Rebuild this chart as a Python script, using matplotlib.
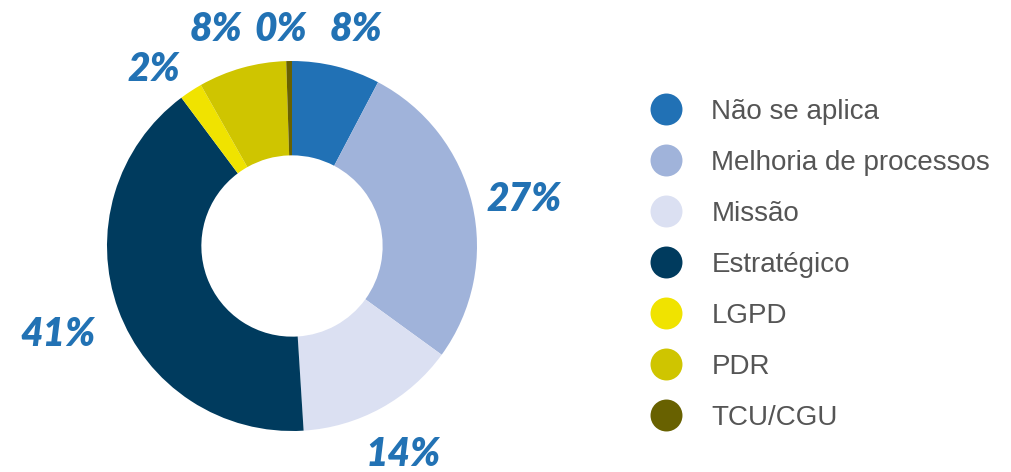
import numpy as np
import matplotlib
matplotlib.use("Agg")
import matplotlib.pyplot as plt
from matplotlib.lines import Line2D

# share of each category (percent)
categories = ["Não se aplica", "Melhoria de processos", "Missão", "Estratégico",
              "LGPD", "PDR", "TCU/CGU"]
values = [7.7, 27.3, 14.0, 40.8, 2.0, 7.7, 0.5]
pct_labels = ["8%", "27%", "14%", "41%", "2%", "8%", "0%"]
colors = ["#2171B5", "#A0B3DA", "#DBE0F2", "#003B5E", "#F0E300", "#CFC500", "#686100"]

# how far out each percent label sits (in pie radii) and small angle tweaks (deg)
label_dist = [1.22, 1.28, 1.28, 1.35, 1.21, 1.24, 1.17]
label_shift = [-2.7, -1.9, -0.7, 0.6, 4.9, 3.7, 2.1]

fig = plt.figure(figsize=(10.11, 4.72), dpi=100)

# square axes centred on the donut
W, H = 1011, 472
cx, cy, R = 292, 246, 185
lim = 1.4
half = lim * R
ax = fig.add_axes([(cx - half) / W, (H - cy - half) / H, 2 * half / W, 2 * half / H])

wedges, _ = ax.pie(values, colors=colors, startangle=90, counterclock=False,
                   radius=1.0, wedgeprops=dict(width=0.51, linewidth=0))

for w, lab, d, sh in zip(wedges, pct_labels, label_dist, label_shift):
    ang = np.deg2rad((w.theta1 + w.theta2) / 2 + sh)
    ax.text(d * np.cos(ang), d * np.sin(ang), lab, ha="center", va="center",
            fontsize=28, fontweight="heavy", fontstyle="italic",
            family="Lato", color="#2272B4")

ax.set_xlim(-lim, lim)
ax.set_ylim(-lim, lim)
ax.axis("off")

# legend on the right
handles = [Line2D([0], [0], marker="o", linestyle="none", markersize=23,
                  markerfacecolor=c, markeredgewidth=0) for c in colors]
leg = fig.legend(handles, categories, loc="upper left",
                 bbox_to_anchor=(635 / W, 1 - 88 / H), frameon=False,
                 prop={"family": "Liberation Sans", "size": 20},
                 labelspacing=0.9, handletextpad=0.95, handlelength=1.4,
                 borderaxespad=0)
for t in leg.get_texts():
    t.set_color("#555555")

fig.savefig("out.png", dpi=100)
